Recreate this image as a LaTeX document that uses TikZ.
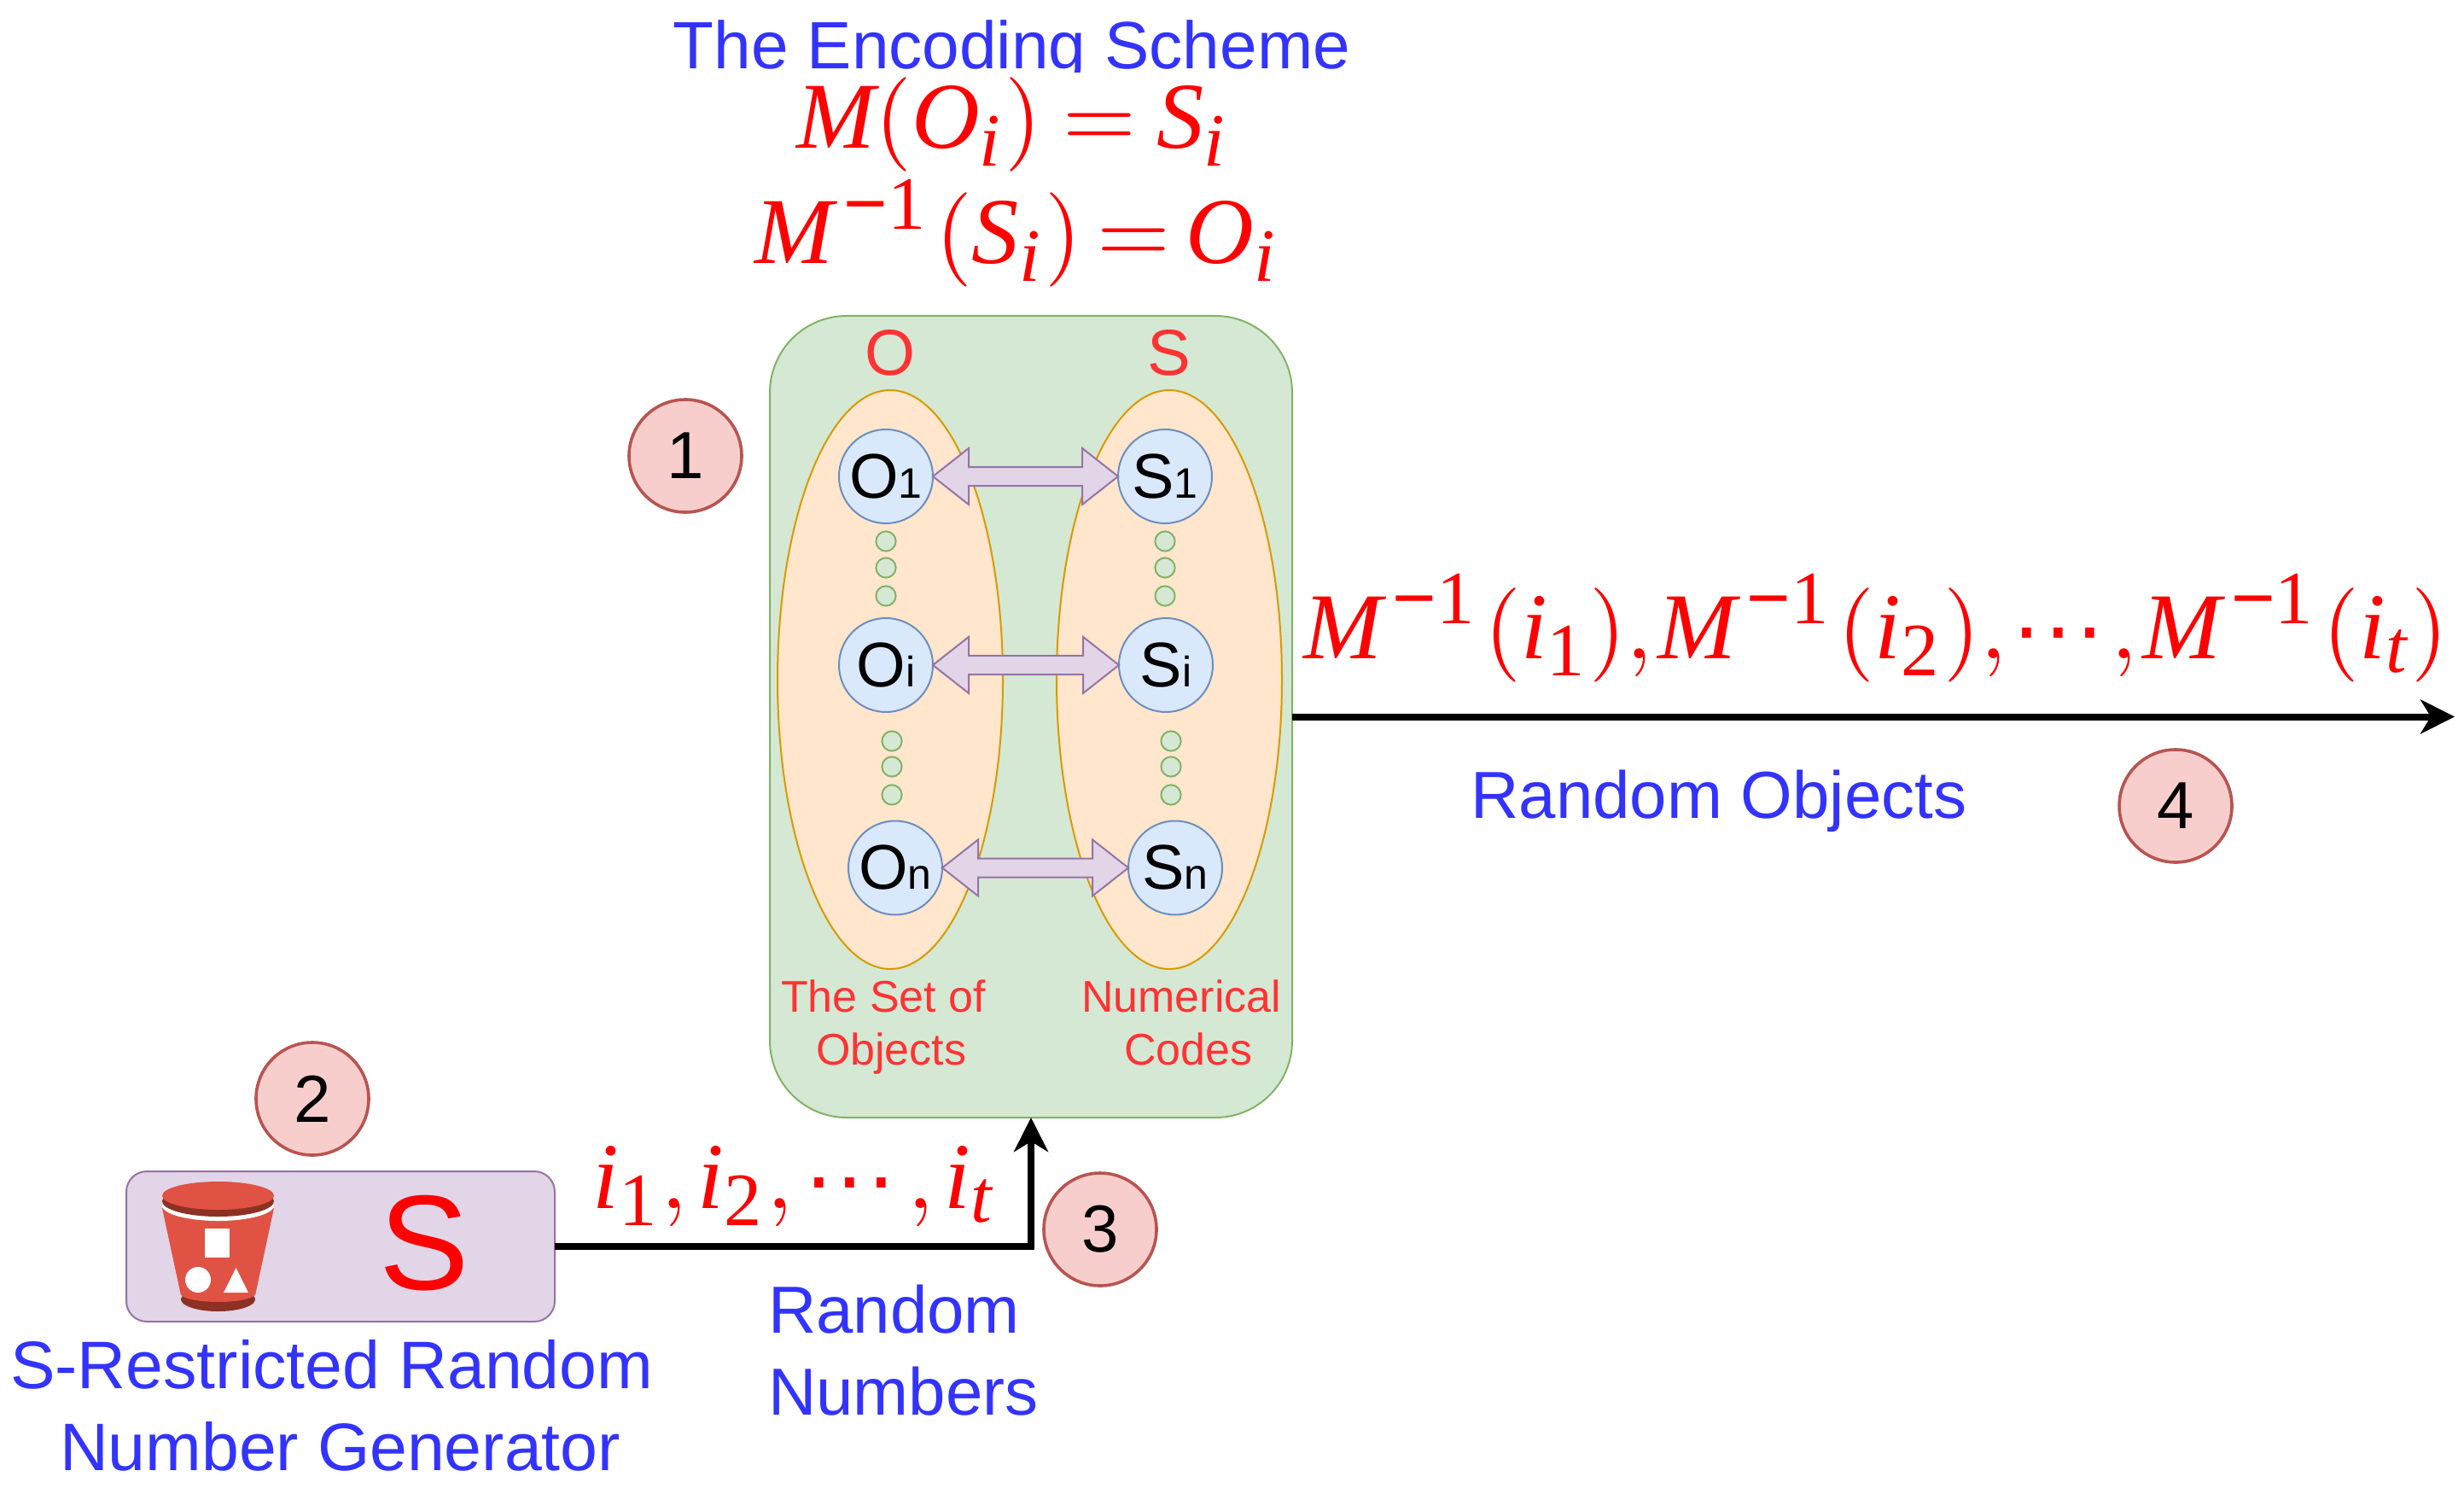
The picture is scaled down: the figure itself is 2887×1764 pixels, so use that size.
\documentclass[tikz,border=0pt]{standalone}
\usepackage{fontspec}
\setmainfont{Liberation Sans}
\newfontfamily\mfam[NFSSFamily=lserif]{Liberation Serif}
\DeclareMathAlphabet{\mli}{TU}{lserif}{m}{it}
\DeclareMathAlphabet{\mlr}{TU}{lserif}{m}{n}
\DeclareMathSizes{10}{10}{8}{6}
\usetikzlibrary{shapes.geometric,arrows.meta,calc}
\definecolor{txtblue}{HTML}{3333FF}
\definecolor{txtred}{HTML}{FF3333}
\definecolor{grfill}{HTML}{D5E8D4}\definecolor{grline}{HTML}{82B366}
\definecolor{orfill}{HTML}{FFE6CC}\definecolor{orline}{HTML}{D79B00}
\definecolor{blfill}{HTML}{DAE8FC}\definecolor{blline}{HTML}{6C8EBF}
\definecolor{pufill}{HTML}{E1D5E7}\definecolor{puline}{HTML}{9673A6}
\definecolor{refill}{HTML}{F8CECC}\definecolor{reline}{HTML}{B85450}
\definecolor{bkt}{HTML}{E05243}\definecolor{bktd}{HTML}{8C3123}
\newcommand{\Lab}[1]{\fontsize{#1}{#1}\selectfont}
\tikzset{
 x=0.25pt,y=-0.25pt,
 every node/.style={inner sep=0pt,outer sep=0pt},
 greenbox/.style={draw=grline,fill=grfill,line width=.5pt,rounded corners=22.5pt,minimum width=153pt,minimum height=234.75pt},
 genbox/.style={draw=puline,fill=pufill,line width=.5pt,rounded corners=6pt,minimum width=125.5pt,minimum height=44pt},
 setell/.style={ellipse,draw=orline,fill=orfill,line width=.5pt,minimum width=66pt,minimum height=169.5pt},
 item/.style={circle,draw=blline,fill=blfill,line width=.5pt,minimum size=27.5pt,font=\Lab{18.5pt},text=black},
 dotc/.style={circle,draw=grline,fill=grfill,line width=.5pt,minimum size=5.8pt},
 dbl/.style={draw=puline,fill=pufill,line width=.5pt,line join=miter},
 stepc/.style={circle,draw=reline,fill=refill,line width=.9pt,minimum size=33pt,font=\Lab{19.5pt},text=black},
 bluet/.style={text=txtblue,font=\Lab{19.5pt},align=left},
 redt/.style={text=txtred,font=\Lab{13pt},align=left},
 mathn/.style={text=red,anchor=base,scale=2.76},
 flow/.style={line width=2pt,-{Stealth[length=10pt,width=10pt,inset=3pt]}},
}
\newcommand{\sub}[1]{{\fontsize{12.5pt}{12.5pt}\selectfont #1}}
\newcommand{\blockarrow}[2]{%
 \draw[dbl] (#1.east) -- ++(42,-33) -- ++(0,22) -- ($(#2.west)+(-42,-11)$) -- ++(0,-22) -- (#2.west)
   -- ++(-42,33) -- ++(0,-22) -- ($(#1.east)+(42,11)$) -- ++(0,22) -- cycle;}
\newcommand{\mI}{\mli{i}}
\newcommand{\mM}{\mli{M}}
\newcommand{\mInv}{\mkern2mu{}^{\mlr{\char"2212 1}}\mkern1mu}
\newcommand{\mDots}{\mlr{\char"B7\char"B7\char"B7}}
\begin{document}
\begin{tikzpicture}
\useasboundingbox (0,0) rectangle (2887,1764);
% title and equations
\node[bluet,anchor=base,font=\Lab{19.6pt}] (title) at (1185.5,81) {The Encoding Scheme};
\fill[white] (1000,85) rectangle (1400,100);
\node[mathn] (eqa) at (1187,174) {$\mM\mlr{(}\mli{O}_{\mI}\mlr{)}\:\mlr{=}\:\mli{S}_{\mI}$};
\node[mathn] (eqb) at (1192,309) {$\mM\mInv\mlr{(}\mli{S}_{\mI}\mlr{)}\mkern3mu\mlr{=}\mkern3mu\mli{O}_{\mI}$};
% scheme box
\node[greenbox] (scheme) at (1208,839.5) {};
\node[text=txtred,font=\Lab{19pt}] (lo) at (1043,413) {O};
\node[text=txtred,font=\Lab{19pt}] (ls) at (1370,413) {S};
\node[setell] (setO) at (1043,796) {};
\node[setell] (setS) at (1370,796) {};
\node[item] (o1) at (1038,558) {O\sub{1}};
\node[item] (oi) at (1038,779) {O\sub{i}};
\node[item] (on) at (1049,1016.5) {O\sub{n}};
\node[item] (s1) at (1365,558) {S\sub{1}};
\node[item] (si) at (1366,779) {S\sub{i}};
\node[item] (sn) at (1377,1016.5) {S\sub{n}};
\foreach \x/\y [count=\k] in {1038/634,1038/665,1038/698,1365/634,1365/665,1365/698,1045/868,1045/898,1045/931,1372/868,1372/898,1372/931}
  \node[dotc] (d\k) at (\x,\y) {};
\blockarrow{o1}{s1}
\blockarrow{oi}{si}
\blockarrow{on}{sn}
\node[redt,anchor=base west] (capO) at (915,1247) {The Set of\\[2.5pt]\hspace*{10.25pt}Objects};
\node[redt,anchor=base west] (capS) at (1267,1247) {Numerical\\[2.5pt]\hspace*{12.5pt}Codes};
% step markers
\node[stepc] (n1) at (803,534) {1};
\node[stepc] (n2) at (366,1287) {2};
\node[stepc] (n3) at (1289,1440) {3};
\node[stepc] (n4) at (2549,944) {4};
% generator
\node[genbox] (gen) at (399,1460) {};
\fill[bktd] (255.5,1522) ellipse[x radius=43.5,y radius=14];
\fill[bkt] (255.5,1515) ellipse[x radius=44,y radius=10];
\fill[bkt] (190,1415) -- (321,1415) -- (299.5,1515) -- (211.5,1515) -- cycle;
\fill[white] (255.5,1412) ellipse[x radius=65.5,y radius=18];
\fill[bktd] (255.5,1407) ellipse[x radius=65.5,y radius=18];
\fill[bkt] (255.5,1400.5) ellipse[x radius=65.5,y radius=16.5];
\fill[white] (240,1439) rectangle (269,1473);
\fill[white] (232,1499) circle[radius=15];
\fill[white] (262,1514) -- (276.5,1485) -- (291,1514) -- cycle;
\node[text=red,font=\Lab{39.5pt}] (bigS) at (497,1456) {S};
\node[bluet,anchor=base west,font=\Lab{19.7pt}] (genlab) at (12,1722) {S-Restricted Random\\[4.3pt]\hspace*{14.5pt}Number Generator};
% flows
\draw[flow] (gen.east) -| (scheme.south);
\coordinate (out) at (2876,839.5);
\draw[flow] (scheme.east) -- (out);
\node[mathn] (seq) at (931,1415) {$\mI_{\mlr{1}}\mlr{,}\mkern2mu\mI_{\mlr{2}}\mlr{,}\mkern2mu\mDots\mkern2mu\mlr{,}\mkern2mu\mI_{\mli{t}}$};
\node[bluet,anchor=base west] (rn) at (900,1657) {Random\\[4.5pt]Numbers};
\node[mathn] (dec) at (2198,771) {$\mM\mInv\mlr{(}\mI_{\mlr{1}}\mlr{),}\mkern1mu\mM\mInv\mlr{(}\mI_{\mlr{2}}\mlr{),}\mkern1mu\mDots\mkern1mu\mlr{,}\mkern1mu\mM\mInv\mlr{(}\mI_{\mli{t}}\mlr{)}$};
\node[bluet,anchor=base] (ro) at (2014,958) {Random Objects};
\end{tikzpicture}
\end{document}
